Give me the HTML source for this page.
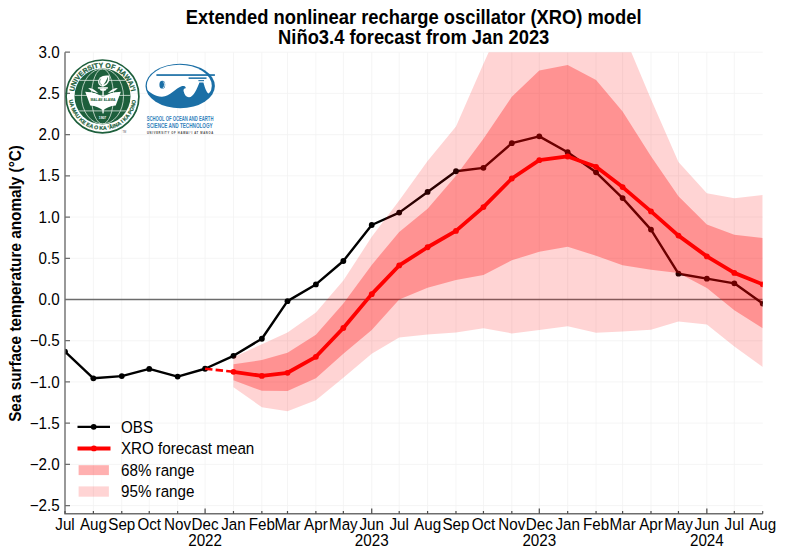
<!DOCTYPE html>
<html><head><meta charset="utf-8"><style>html,body{margin:0;padding:0;background:#fff;width:786px;height:559px;overflow:hidden}svg{display:block}</style></head>
<body>
<svg width="786" height="559" viewBox="0 0 786 559">
<rect width="786" height="559" fill="#fff"/>
<defs><clipPath id="pc"><rect x="65.00" y="52.21" width="697.70" height="461.61"/></clipPath></defs>
<path d="M93.38 52.21V513.82M121.77 52.21V513.82M149.24 52.21V513.82M177.62 52.21V513.82M205.09 52.21V513.82M233.47 52.21V513.82M261.86 52.21V513.82M287.49 52.21V513.82M315.88 52.21V513.82M343.35 52.21V513.82M371.73 52.21V513.82M399.20 52.21V513.82M427.58 52.21V513.82M455.97 52.21V513.82M483.44 52.21V513.82M511.82 52.21V513.82M539.29 52.21V513.82M567.67 52.21V513.82M596.06 52.21V513.82M622.61 52.21V513.82M650.99 52.21V513.82M678.46 52.21V513.82M706.85 52.21V513.82M734.32 52.21V513.82M65.00 505.58H762.70M65.00 464.36H762.70M65.00 423.14H762.70M65.00 381.93H762.70M65.00 340.72H762.70M65.00 299.50H762.70M65.00 258.28H762.70M65.00 217.07H762.70M65.00 175.85H762.70M65.00 134.64H762.70M65.00 93.42H762.70M65.00 52.21H762.70" stroke="#f2f2f2" stroke-width="0.8" fill="none"/>
<g font-family="Liberation Sans, sans-serif" font-weight="bold" font-size="18.35" text-anchor="middle" fill="#000">
<text transform="translate(413.7,24.1) scale(1,1.07)">Extended nonlinear recharge oscillator (XRO) model</text>
<text transform="translate(413.7,43.6) scale(1,1.07)">Niño3.4 forecast from Jan 2023</text></g>
<text font-family="Liberation Sans, sans-serif" font-weight="bold" font-size="15.33" text-anchor="middle" transform="translate(20.8,283.45) rotate(-90) scale(1,1.05)">Sea surface temperature anomaly (°C)</text>
<g clip-path="url(#pc)">
<path d="M65.00 299.50H762.70" stroke="#6c6c6c" stroke-width="1.4"/>
<polyline points="65.00,351.60 93.38,378.30 121.77,376.08 149.24,368.91 177.62,376.57 205.09,368.74 233.47,355.80 261.86,338.74 287.49,301.15 315.88,284.42 343.35,261.01 371.73,224.98 399.20,212.62 427.58,191.93 455.97,171.24 483.44,167.86 511.82,143.21 539.29,136.37 567.67,152.20 596.06,172.31 622.61,198.11 650.99,229.60 678.46,273.70 706.85,278.65 734.32,283.34 762.70,303.62" fill="none" stroke="#000" stroke-width="2.4" stroke-linejoin="round"/>
<circle cx="65.00" cy="351.60" r="2.9" fill="#000"/>
<circle cx="93.38" cy="378.30" r="2.9" fill="#000"/>
<circle cx="121.77" cy="376.08" r="2.9" fill="#000"/>
<circle cx="149.24" cy="368.91" r="2.9" fill="#000"/>
<circle cx="177.62" cy="376.57" r="2.9" fill="#000"/>
<circle cx="205.09" cy="368.74" r="2.9" fill="#000"/>
<circle cx="233.47" cy="355.80" r="2.9" fill="#000"/>
<circle cx="261.86" cy="338.74" r="2.9" fill="#000"/>
<circle cx="287.49" cy="301.15" r="2.9" fill="#000"/>
<circle cx="315.88" cy="284.42" r="2.9" fill="#000"/>
<circle cx="343.35" cy="261.01" r="2.9" fill="#000"/>
<circle cx="371.73" cy="224.98" r="2.9" fill="#000"/>
<circle cx="399.20" cy="212.62" r="2.9" fill="#000"/>
<circle cx="427.58" cy="191.93" r="2.9" fill="#000"/>
<circle cx="455.97" cy="171.24" r="2.9" fill="#000"/>
<circle cx="483.44" cy="167.86" r="2.9" fill="#000"/>
<circle cx="511.82" cy="143.21" r="2.9" fill="#000"/>
<circle cx="539.29" cy="136.37" r="2.9" fill="#000"/>
<circle cx="567.67" cy="152.20" r="2.9" fill="#000"/>
<circle cx="596.06" cy="172.31" r="2.9" fill="#000"/>
<circle cx="622.61" cy="198.11" r="2.9" fill="#000"/>
<circle cx="650.99" cy="229.60" r="2.9" fill="#000"/>
<circle cx="678.46" cy="273.70" r="2.9" fill="#000"/>
<circle cx="706.85" cy="278.65" r="2.9" fill="#000"/>
<circle cx="734.32" cy="283.34" r="2.9" fill="#000"/>
<circle cx="762.70" cy="303.62" r="2.9" fill="#000"/>
<polygon points="233.47,357.20 261.86,344.26 287.49,332.47 315.88,312.52 343.35,280.54 371.73,236.85 399.20,200.58 427.58,161.02 455.97,126.40 483.44,63.75 511.82,1.10 539.29,-5.49 567.67,-13.73 596.06,2.75 622.61,31.60 650.99,99.20 678.46,162.01 706.85,193.17 734.32,198.28 762.70,194.98 762.70,367.01 734.32,346.57 706.85,324.56 678.46,321.43 650.99,329.67 622.61,331.40 596.06,332.72 567.67,326.29 539.29,329.92 511.82,333.38 483.44,328.35 455.97,332.47 427.58,334.62 399.20,337.42 371.73,353.82 343.35,377.64 315.88,400.23 287.49,411.19 261.86,407.15 233.47,387.21" fill="rgba(255,0,0,0.17)"/>
<polygon points="233.47,364.29 261.86,360.00 287.49,352.67 315.88,334.78 343.35,303.62 371.73,264.88 399.20,231.91 427.58,208.83 455.97,175.85 483.44,138.76 511.82,96.72 539.29,70.59 567.67,64.99 596.06,79.99 622.61,111.56 650.99,156.32 678.46,196.30 706.85,224.49 734.32,234.79 762.70,238.01 762.70,328.27 734.32,310.22 706.85,287.96 678.46,272.88 650.99,269.83 622.61,265.13 596.06,255.81 567.67,246.74 539.29,251.77 511.82,260.35 483.44,275.02 455.97,280.05 427.58,287.63 399.20,299.50 371.73,330.00 343.35,353.82 315.88,378.14 287.49,391.00 261.86,390.83 233.47,380.28" fill="rgba(255,0,0,0.31)"/>
<path d="M205.09 368.74L233.47 371.79" stroke="#f00" stroke-width="2.6" stroke-dasharray="7.4 3.2" fill="none"/>
<polyline points="233.47,371.79 261.86,375.91 287.49,372.78 315.88,356.79 343.35,328.02 371.73,294.14 399.20,265.46 427.58,247.24 455.97,230.92 483.44,207.10 511.82,178.49 539.29,160.19 567.67,156.48 596.06,166.79 622.61,187.07 650.99,211.38 678.46,235.62 706.85,256.39 734.32,272.88 762.70,284.33" fill="none" stroke="#f00" stroke-width="3.8" stroke-linejoin="round"/>
<circle cx="233.47" cy="371.79" r="2.9" fill="#f00"/>
<circle cx="261.86" cy="375.91" r="2.9" fill="#f00"/>
<circle cx="287.49" cy="372.78" r="2.9" fill="#f00"/>
<circle cx="315.88" cy="356.79" r="2.9" fill="#f00"/>
<circle cx="343.35" cy="328.02" r="2.9" fill="#f00"/>
<circle cx="371.73" cy="294.14" r="2.9" fill="#f00"/>
<circle cx="399.20" cy="265.46" r="2.9" fill="#f00"/>
<circle cx="427.58" cy="247.24" r="2.9" fill="#f00"/>
<circle cx="455.97" cy="230.92" r="2.9" fill="#f00"/>
<circle cx="483.44" cy="207.10" r="2.9" fill="#f00"/>
<circle cx="511.82" cy="178.49" r="2.9" fill="#f00"/>
<circle cx="539.29" cy="160.19" r="2.9" fill="#f00"/>
<circle cx="567.67" cy="156.48" r="2.9" fill="#f00"/>
<circle cx="596.06" cy="166.79" r="2.9" fill="#f00"/>
<circle cx="622.61" cy="187.07" r="2.9" fill="#f00"/>
<circle cx="650.99" cy="211.38" r="2.9" fill="#f00"/>
<circle cx="678.46" cy="235.62" r="2.9" fill="#f00"/>
<circle cx="706.85" cy="256.39" r="2.9" fill="#f00"/>
<circle cx="734.32" cy="272.88" r="2.9" fill="#f00"/>
<circle cx="762.70" cy="284.33" r="2.9" fill="#f00"/>
</g>
<path d="M65.00 52.21V513.82H762.70" stroke="#6e6e6e" stroke-width="1.4" fill="none"/>
<path d="M65.00 505.58h5M65.00 464.36h5M65.00 423.14h5M65.00 381.93h5M65.00 340.72h5M65.00 299.50h5M65.00 258.28h5M65.00 217.07h5M65.00 175.85h5M65.00 134.64h5M65.00 93.42h5M65.00 52.21h5" stroke="#6e6e6e" stroke-width="1.2" fill="none"/>
<path d="M65.00 513.82v-2.8M93.38 513.82v-2.8M121.77 513.82v-2.8M149.24 513.82v-2.8M177.62 513.82v-2.8M205.09 513.82v-5.2M233.47 513.82v-2.8M261.86 513.82v-2.8M287.49 513.82v-2.8M315.88 513.82v-2.8M343.35 513.82v-2.8M371.73 513.82v-5.2M399.20 513.82v-2.8M427.58 513.82v-2.8M455.97 513.82v-2.8M483.44 513.82v-2.8M511.82 513.82v-2.8M539.29 513.82v-5.2M567.67 513.82v-2.8M596.06 513.82v-2.8M622.61 513.82v-2.8M650.99 513.82v-2.8M678.46 513.82v-2.8M706.85 513.82v-5.2M734.32 513.82v-2.8M762.70 513.82v-2.8" stroke="#4a4a4a" stroke-width="1.2" fill="none"/>
<g font-family="Liberation Sans, sans-serif" font-size="15.2" fill="#000">
<text transform="translate(59.60,511.18) scale(1,1.03)" text-anchor="end">−2.5</text>
<text transform="translate(59.60,469.96) scale(1,1.03)" text-anchor="end">−2.0</text>
<text transform="translate(59.60,428.75) scale(1,1.03)" text-anchor="end">−1.5</text>
<text transform="translate(59.60,387.53) scale(1,1.03)" text-anchor="end">−1.0</text>
<text transform="translate(59.60,346.32) scale(1,1.03)" text-anchor="end">−0.5</text>
<text transform="translate(59.60,305.10) scale(1,1.03)" text-anchor="end">0.0</text>
<text transform="translate(59.60,263.88) scale(1,1.03)" text-anchor="end">0.5</text>
<text transform="translate(59.60,222.67) scale(1,1.03)" text-anchor="end">1.0</text>
<text transform="translate(59.60,181.45) scale(1,1.03)" text-anchor="end">1.5</text>
<text transform="translate(59.60,140.24) scale(1,1.03)" text-anchor="end">2.0</text>
<text transform="translate(59.60,99.02) scale(1,1.03)" text-anchor="end">2.5</text>
<text transform="translate(59.60,57.81) scale(1,1.03)" text-anchor="end">3.0</text>
<text transform="translate(65.00,529.80) scale(1,1.03)" text-anchor="middle">Jul</text>
<text transform="translate(93.38,529.80) scale(1,1.03)" text-anchor="middle">Aug</text>
<text transform="translate(121.77,529.80) scale(1,1.03)" text-anchor="middle">Sep</text>
<text transform="translate(149.24,529.80) scale(1,1.03)" text-anchor="middle">Oct</text>
<text transform="translate(177.62,529.80) scale(1,1.03)" text-anchor="middle">Nov</text>
<text transform="translate(205.09,529.80) scale(1,1.03)" text-anchor="middle">Dec</text>
<text transform="translate(233.47,529.80) scale(1,1.03)" text-anchor="middle">Jan</text>
<text transform="translate(261.86,529.80) scale(1,1.03)" text-anchor="middle">Feb</text>
<text transform="translate(287.49,529.80) scale(1,1.03)" text-anchor="middle">Mar</text>
<text transform="translate(315.88,529.80) scale(1,1.03)" text-anchor="middle">Apr</text>
<text transform="translate(343.35,529.80) scale(1,1.03)" text-anchor="middle">May</text>
<text transform="translate(371.73,529.80) scale(1,1.03)" text-anchor="middle">Jun</text>
<text transform="translate(399.20,529.80) scale(1,1.03)" text-anchor="middle">Jul</text>
<text transform="translate(427.58,529.80) scale(1,1.03)" text-anchor="middle">Aug</text>
<text transform="translate(455.97,529.80) scale(1,1.03)" text-anchor="middle">Sep</text>
<text transform="translate(483.44,529.80) scale(1,1.03)" text-anchor="middle">Oct</text>
<text transform="translate(511.82,529.80) scale(1,1.03)" text-anchor="middle">Nov</text>
<text transform="translate(539.29,529.80) scale(1,1.03)" text-anchor="middle">Dec</text>
<text transform="translate(567.67,529.80) scale(1,1.03)" text-anchor="middle">Jan</text>
<text transform="translate(596.06,529.80) scale(1,1.03)" text-anchor="middle">Feb</text>
<text transform="translate(622.61,529.80) scale(1,1.03)" text-anchor="middle">Mar</text>
<text transform="translate(650.99,529.80) scale(1,1.03)" text-anchor="middle">Apr</text>
<text transform="translate(678.46,529.80) scale(1,1.03)" text-anchor="middle">May</text>
<text transform="translate(706.85,529.80) scale(1,1.03)" text-anchor="middle">Jun</text>
<text transform="translate(734.32,529.80) scale(1,1.03)" text-anchor="middle">Jul</text>
<text transform="translate(762.70,529.80) scale(1,1.03)" text-anchor="middle">Aug</text>
<text transform="translate(205.09,545.90) scale(1,1.03)" text-anchor="middle">2022</text>
<text transform="translate(371.73,545.90) scale(1,1.03)" text-anchor="middle">2023</text>
<text transform="translate(539.29,545.90) scale(1,1.03)" text-anchor="middle">2023</text>
<text transform="translate(706.85,545.90) scale(1,1.03)" text-anchor="middle">2024</text>
</g>
<path d="M77.5 426.8H110" stroke="#000" stroke-width="2.2"/><circle cx="93.7" cy="426.8" r="2.9" fill="#000"/>
<path d="M77.5 448.4H110.5" stroke="#f00" stroke-width="4"/><circle cx="93.9" cy="448.4" r="2.9" fill="#f00"/>
<rect x="78.6" y="465.2" width="30.3" height="9.9" fill="rgba(255,0,0,0.31)"/>
<rect x="78.6" y="486.4" width="30.3" height="10.3" fill="rgba(255,0,0,0.17)"/>
<g font-family="Liberation Sans, sans-serif" font-size="15.2" fill="#000">
<text transform="translate(121.00,432.60) scale(1,1.03)" text-anchor="start">OBS</text>
<text transform="translate(121.00,454.10) scale(1,1.03)" text-anchor="start">XRO forecast mean</text>
<text transform="translate(121.00,475.60) scale(1,1.03)" text-anchor="start">68% range</text>
<text transform="translate(121.00,497.20) scale(1,1.03)" text-anchor="start">95% range</text>
</g>
<g id="uh">
<g transform="translate(102.5,96.4)">
<defs>
<path id="uhTop" d="M-27.92 7.48 A28.9 28.9 0 1 1 27.92 7.48"/>
<path id="uhBot" d="M-32.46 -8.70 A33.6 33.6 0 1 0 32.46 -8.70"/>
<clipPath id="uhDisk"><circle r="28"/></clipPath>
</defs>
<circle r="36.4" fill="none" stroke="#1d5f3c" stroke-width="1.7"/>
<circle r="28" fill="#1d5f3c"/>
<text font-family="Liberation Sans, sans-serif" font-weight="bold" font-size="6.9" fill="#1d5f3c" stroke="#1d5f3c" stroke-width="0.25" letter-spacing="0" text-anchor="middle"><textPath href="#uhTop" startOffset="50%">UNIVERSITY OF HAWAI‘I</textPath></text>
<text font-family="Liberation Sans, sans-serif" font-weight="bold" font-size="5.3" fill="#1d5f3c" stroke="#1d5f3c" stroke-width="0.2" letter-spacing="0" text-anchor="middle"><textPath href="#uhBot" startOffset="50%">UA MAU KE EA O KA ‘ĀINA I KA PONO</textPath></text>
<g clip-path="url(#uhDisk)" fill="none" stroke="#dce8e0" stroke-width="0.8">
<ellipse rx="11" ry="27.6"/>
<ellipse rx="21" ry="27.6"/>
<path d="M-24 -16H24M-28 -1H28M-25 14.5H25"/>
</g>
<!-- leaves -->
<g fill="#ffffff">
<path d="M-4.2 -3.2 C-7.5 -6.6,-10.8 -8.2,-14.3 -8.3 C-12 -5.2,-8 -3.6,-4.2 -3.2Z"/>
<path d="M-4.6 -1.6 C-7.6 -3.4,-10.4 -4.2,-13.6 -3.9 C-11 -2.3,-8 -1.6,-4.6 -1.6Z"/>
<path d="M5.2 -3.2 C8.5 -6.6,11.8 -8.2,15.3 -8.3 C13 -5.2,9 -3.6,5.2 -3.2Z"/>
<path d="M5.6 -1.6 C8.6 -3.4,11.4 -4.2,14.6 -3.9 C12 -2.3,9 -1.6,5.6 -1.6Z"/>
</g>
<!-- book -->
<path d="M-17.3 -4.6 C-11 -4.4,-4 -2.6,0.5 0.8 C5 -2.6,12 -4.4,18.4 -4.6 L13.2 9.2 C8 9.6,3.2 11.6,0.5 14.2 C-2.2 11.6,-7 9.6,-12.2 9.2Z" fill="#ffffff"/>
<text x="0.5" y="4.4" font-family="Liberation Sans, sans-serif" font-weight="bold" font-size="3.5" fill="#1d5f3c" text-anchor="middle" textLength="25" lengthAdjust="spacingAndGlyphs">MĀLAMALAMA</text>
<!-- torch -->
<rect x="-0.1" y="-8" width="1.3" height="25" fill="#ffffff"/>
<rect x="-4.6" y="-9.2" width="10" height="1.4" fill="#ffffff"/>
<path d="M-3.4 -7.8 H4.6 L2.8 -5.6 H-1.6Z" fill="#ffffff"/>
<path d="M0.5 -9.6 C-4.6 -10.6,-6 -15.4,-2.4 -19 C-0.4 -20.8,3 -21.4,6.6 -20.8 C8 -16.8,6.4 -11.6,0.5 -9.6Z" fill="#ffffff"/>
<path d="M0.8 -11.4 C2.6 -13.6,4.4 -16.6,5.2 -19.6 C6 -16.2,4.6 -12.8,0.8 -11.4Z" fill="#1d5f3c"/>
<path d="M-0.6 -11.2 C-3 -12.4,-3.6 -15.2,-1.8 -17.6" fill="none" stroke="#1d5f3c" stroke-width="0.7"/>
<text x="0" y="22.6" font-family="Liberation Sans, sans-serif" font-weight="bold" font-size="3.3" fill="#ffffff" text-anchor="middle">1907</text>
</g>
<text x="122.5" y="132.6" font-family="Liberation Sans, sans-serif" font-size="2.6" fill="#555">TM</text>
</g>
<g id="soest">
<defs><clipPath id="soIn"><ellipse cx="179.3" cy="85.75" rx="32.5" ry="21.0"/></clipPath></defs>
<ellipse cx="180.2" cy="86" rx="34.7" ry="22.2" fill="#1b6fa6"/>
<path clip-path="url(#soIn)" fill="#ffffff" d="M140 55 L140 89 L146 88.8 C150 93,156 97,162 96.8 C170 96.5,176 88,181.5 86.3 C184 85.6,186.2 86.5,185.6 88.2 C184.3 88.2,183.2 89.3,183.6 91.2 C184.5 95,186.5 97.3,189 97.2 C193.5 97,197 89,199.4 82.4 L203.4 82.4 C205 88,206.5 92.4,208.6 93.4 C210.5 92.5,213 89,216 84 L220 55Z"/>
<rect x="156.4" y="74.2" width="58.5" height="1.7" fill="#1b6fa6"/>
<rect x="188.6" y="77.4" width="17.9" height="1.5" fill="#1b6fa6"/>
<rect x="198.4" y="80.1" width="5.6" height="1.1" fill="#1b6fa6"/>
<ellipse cx="162.3" cy="84.7" rx="2.9" ry="3.9" fill="#1b6fa6"/>
<path d="M163.3 81.6 C165 82.8,165 86.6,163 88" fill="none" stroke="#ffffff" stroke-width="0.8"/>
<g font-family="Liberation Sans, sans-serif" font-weight="bold" fill="#3482bc">
<text x="146.8" y="120.8" font-size="6.3" textLength="66.6" lengthAdjust="spacingAndGlyphs">SCHOOL OF OCEAN AND EARTH</text>
<text x="146.8" y="128.3" font-size="6.4" textLength="65.9" lengthAdjust="spacingAndGlyphs">SCIENCE AND TECHNOLOGY</text>
</g>
<text x="147" y="134.4" font-family="Liberation Sans, sans-serif" font-size="2.7" font-weight="bold" fill="#444" textLength="66.2" lengthAdjust="spacing">UNIVERSITY OF HAWAI‘I AT MĀNOA</text>
</g>

</svg>
</body></html>
